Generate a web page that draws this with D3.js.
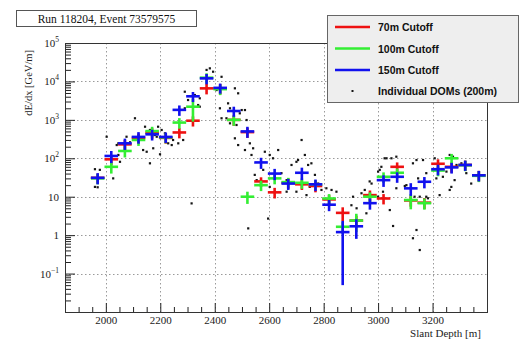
<!DOCTYPE html>
<html>
<head>
<meta charset="utf-8">
<script src="https://cdn.jsdelivr.net/npm/d3@7"></script>
<style>
  html, body { margin: 0; padding: 0; background: #fff; }
  svg { display: block; }
</style>
</head>
<body>
<svg id="chart" width="526" height="339"></svg>
<script>
// Energy-loss profile along the track: binned dE/dx for three DOM distance cutoffs
const binCenters = [1970, 2020, 2070, 2120, 2170, 2220, 2270, 2320, 2370, 2420,
                    2470, 2520, 2570, 2620, 2670, 2720, 2770, 2820, 2870, 2920,
                    2970, 3020, 3070, 3120, 3170, 3220, 3270, 3320, 3370];
const binHalfWidth = 25;

const cut70 = [31, 94, 230, 340, 465, 340, 470, 950, 6600, 6600,
               1000, 480, 25, 13, 23, 21, 19, 8.5, 3.8, 2.4,
               11, 9, 60, 8, 7, 72, 60, 67, 36];
const cut70Err = [9, 28, 70, 100, 140, 100, 140, 280, 2000, 2000,
                  300, 140, 7, 4, 7, 6, 6, 2.5, 1.5, 0.8,
                  3.5, 2.7, 18, 2.5, 2.2, 22, 18, 20, 11];

const cut100 = [30, 60, 155, 300, 510, 350, 850, 2200, 12500, 6300,
                1000, 10, 20, 30, 24, 23, 21, 9, 1.65, 2.4,
                10, 33, 42, 8.2, 6.8, 48, 100, 66, 35];
const cut100Err = [9, 20, 50, 90, 150, 105, 260, 1300, 3800, 1900,
                   300, 3.5, 6, 9, 7, 7, 6, 2.7, 0.55, 1.2,
                   3, 10, 12, 3.5, 2.2, 14, 30, 20, 11];

const cut150 = [31, 115, 245, 360, 420, 360, 1820, 4100, 12000, 6800,
                1700, 500, 78, 40, 22, 42, 21, 6.2, 1.2, 1.7,
                6.8, 27, 33, 16.5, 24.5, 52, 58, 67, 36];
const cut150Err = [10, 40, 80, 120, 130, 110, 550, 1200, 3600, 2000,
                   500, 160, 25, 13, 7, 15, 7, 2, 1.15, 0.9,
                   2.2, 9, 10, 6, 8, 16, 18, 20, 11];

// Individual DOM estimates (200 m): slant depth [m], dE/dx [GeV/m]
const domDepth = [1960, 1978, 1970, 1960, 2003, 2027, 2046, 2040, 2046, 2052,
                  2076, 2089, 2107, 2119, 2137, 2144, 2150, 2162, 2162, 2174,
                  2180, 2187, 2192, 2199, 2205, 2217, 2229, 2242, 2247, 2266,
                  2284, 2290, 2290, 2302, 2315, 2327, 2339, 2345, 2345, 2370,
                  2382, 2394, 2407, 2419, 2425, 2425, 2474, 2486, 2449, 2456,
                  2443, 2456, 2480, 2492, 2511, 2517, 2474, 2486, 2511, 2529,
                  2541, 2535, 2547, 2554, 2578, 2584, 2602, 2602, 2614, 2633,
                  2596, 2523, 2645, 2664, 2682, 2700, 2719, 2731, 2743, 2755,
                  2749, 2768, 2780, 2792, 2810, 2829, 2847, 2664, 2700, 2737,
                  2499, 2706, 2908, 2976, 2921, 2957, 3043, 3055, 3024, 3067,
                  2939, 2951, 2969, 3000, 3006, 3031, 3049, 3012, 3000, 3018,
                  3067, 3098, 3104, 3128, 3141, 3165, 3141, 3128, 3153, 3134,
                  3153, 3177, 3183, 3147, 3177, 3208, 3226, 3214, 3238, 3251,
                  3263, 3275, 3281, 3263, 3269, 3288, 3306, 3324, 3336, 3342,
                  2902];
const domValue = [52, 50, 17.6, 18, 364, 30, 245, 221, 122, 81,
                  364, 261, 1100, 281, 164, 663, 148, 545, 74, 182,
                  403, 364, 663, 127, 545, 446, 245, 221, 299, 245,
                  299, 5400, 2000, 3280, 6.7, 4430, 2430, 2200, 3640, 19900,
                  21900, 17900, 5970, 2000, 1100, 13200, 6620, 4910, 2690, 2000,
                  1100, 813, 735, 1480, 1800, 990, 331, 221, 164, 245,
                  182, 122, 37, 27, 50, 148, 122, 18, 100, 164,
                  2.7, 1.5, 41, 27, 67, 81, 299, 122, 67, 74,
                  18, 37, 22, 15, 16.6, 15, 13.5, 13.5, 13.5, 11,
                  1800, 90, 10, 22, 5.0, 3.7, 4.5, 1.73, 100, 110,
                  12.3, 15, 25, 45, 50, 100, 100, 60, 10, 13.5,
                  16.6, 19, 20, 74, 90, 90, 1.36, 0.83, 0.41, 10,
                  10, 10, 9.1, 30, 41, 100, 11, 30, 33, 45,
                  122, 110, 27, 15, 18, 67, 74, 41, 67, 22,
                  6];

const xTickValues = [2000, 2200, 2400, 2600, 2800, 3000, 3200];
const yTickValues = [0.1, 1, 10, 100, 1000, 10000, 100000];
const titleText = "Run 118204, Event 73579575";
const legendLabels = ["70m Cutoff", "100m Cutoff", "150m Cutoff", "Individual DOMs (200m)"];
const seriesColors = ["#ee1111", "#33ee33", "#1111ee"];

const svg = d3.select("#chart");
const plot = { left: 65, right: 487, top: 43, bottom: 312 };

const x = d3.scaleLinear().domain([1850, 3400]).range([plot.left, plot.right]);
const y = d3.scaleLog().domain([0.01, 100000]).range([plot.bottom, plot.top]);

svg.append("rect").attr("width", 526).attr("height", 339).attr("fill", "#fff");

svg.append("defs").append("clipPath").attr("id", "plotClip")
  .append("rect")
  .attr("x", plot.left).attr("y", plot.top)
  .attr("width", plot.right - plot.left).attr("height", plot.bottom - plot.top);

// dotted grid
const grid = svg.append("g").attr("stroke", "#9a9a9a").attr("stroke-width", 1)
  .attr("stroke-dasharray", "1.5,2.5");
grid.selectAll("line.gx").data(xTickValues).join("line")
  .attr("x1", d => Math.round(x(d)) + 0.5).attr("x2", d => Math.round(x(d)) + 0.5)
  .attr("y1", plot.top).attr("y2", plot.bottom);
grid.selectAll("line.gy").data(yTickValues).join("line")
  .attr("y1", d => Math.round(y(d)) + 0.5).attr("y2", d => Math.round(y(d)) + 0.5)
  .attr("x1", plot.left).attr("x2", plot.right);

// x axis: minor ticks every 50 m, labelled majors every 200 m
const xMinor = d3.range(1900, 3400, 50).filter(v => !xTickValues.includes(v));
const xAxisG = svg.append("g").attr("transform", `translate(0,${plot.bottom})`);
xAxisG.call(d3.axisBottom(x).tickValues(xTickValues).tickSizeInner(-9).tickSizeOuter(0)
  .tickFormat(d3.format("d")));
const xMinorG = svg.append("g").attr("transform", `translate(0,${plot.bottom})`);
xMinorG.call(d3.axisBottom(x).tickValues(xMinor).tickSizeInner(-5).tickSizeOuter(0).tickFormat(""));
xMinorG.select(".domain").remove();

// y axis: log decades with 2..9 minor ticks
const yMinor = [];
for (let e = -2; e < 5; e++) for (let m = 2; m <= 9; m++) yMinor.push(m * Math.pow(10, e));
const yAxisG = svg.append("g").attr("transform", `translate(${plot.left},0)`);
yAxisG.call(d3.axisLeft(y).tickValues(yTickValues).tickSizeInner(-10).tickSizeOuter(0)
  .tickFormat(""));
const yMinorG = svg.append("g").attr("transform", `translate(${plot.left},0)`);
yMinorG.call(d3.axisLeft(y).tickValues(yMinor).tickSizeInner(-6).tickSizeOuter(0).tickFormat(""));
yMinorG.select(".domain").remove();

svg.selectAll(".tick line").attr("stroke", "#222");
svg.selectAll(".domain").attr("stroke", "#222");

xAxisG.selectAll(".tick text")
  .attr("font-family", "'Liberation Serif', 'DejaVu Serif', serif")
  .attr("font-size", 11).attr("fill", "#222").attr("dy", 0).attr("y", 11.5);

// y tick labels with superscript exponents
const yLab = svg.append("g")
  .attr("font-family", "'Liberation Serif', 'DejaVu Serif', serif")
  .attr("fill", "#222");
yTickValues.forEach(v => {
  const e = Math.round(Math.log10(v));
  const t = yLab.append("text")
    .attr("x", plot.left - 6).attr("y", y(v) + 4)
    .attr("text-anchor", "end").attr("font-size", 11);
  if (e === 0) t.text("1");
  else if (e === 1) t.text("10");
  else {
    t.append("tspan").text("10");
    t.append("tspan").attr("font-size", 7.5).attr("dy", -5).text(String(e).replace("-", "\u2212"));
  }
});

// frame
svg.append("rect")
  .attr("x", plot.left + 0.5).attr("y", plot.top + 0.5)
  .attr("width", plot.right - plot.left).attr("height", plot.bottom - plot.top)
  .attr("fill", "none").attr("stroke", "#333").attr("stroke-width", 1);

// axis titles
svg.append("text")
  .attr("transform", `translate(32,50) rotate(-90)`)
  .attr("text-anchor", "end")
  .attr("font-family", "'Liberation Serif', 'DejaVu Serif', serif")
  .attr("font-size", 10.5).attr("fill", "#222")
  .text("dE/dx [GeV/m]");
svg.append("text")
  .attr("x", 481).attr("y", 337)
  .attr("text-anchor", "end")
  .attr("font-family", "'Liberation Serif', 'DejaVu Serif', serif")
  .attr("font-size", 11).attr("fill", "#222")
  .text("Slant Depth [m]");

// data
const dataLayer = svg.append("g").attr("clip-path", "url(#plotClip)");

dataLayer.append("g").selectAll("rect").data(d3.zip(domDepth, domValue)).join("rect")
  .attr("x", d => x(d[0]) - 1.1).attr("y", d => y(d[1]) - 1.1)
  .attr("width", 2.2).attr("height", 2.2).attr("fill", "#151515");

const seriesList = [
  { values: cut70, errs: cut70Err, color: seriesColors[0] },
  { values: cut100, errs: cut100Err, color: seriesColors[1] },
  { values: cut150, errs: cut150Err, color: seriesColors[2] }
];
seriesList.forEach(s => {
  const g = dataLayer.append("g").attr("stroke", s.color).attr("stroke-width", 2.6);
  const pts = binCenters.map((c, i) => ({ c, v: s.values[i], e: s.errs[i] }));
  g.selectAll("line.h").data(pts).join("line")
    .attr("x1", d => x(d.c - binHalfWidth)).attr("x2", d => x(d.c + binHalfWidth))
    .attr("y1", d => y(d.v)).attr("y2", d => y(d.v));
  g.selectAll("line.v").data(pts).join("line")
    .attr("x1", d => x(d.c)).attr("x2", d => x(d.c))
    .attr("y1", d => y(Math.max(d.v - d.e, 0.011))).attr("y2", d => y(d.v + d.e));
});

// title box
svg.append("rect").attr("x", 16.5).attr("y", 10.5).attr("width", 180).attr("height", 16)
  .attr("fill", "#fff").attr("stroke", "#555").attr("stroke-width", 1);
svg.append("text").attr("x", 106.5).attr("y", 22.5).attr("text-anchor", "middle")
  .attr("font-family", "'Liberation Serif', 'DejaVu Serif', serif")
  .attr("font-size", 11.5).attr("fill", "#111").text(titleText);

// legend
const lg = svg.append("g");
lg.append("rect").attr("x", 327.5).attr("y", 15.5).attr("width", 191).attr("height", 87)
  .attr("fill", "#eeeeee").attr("stroke", "#666").attr("stroke-width", 1);
const rowY = [27, 48.5, 70, 91];
legendLabels.forEach((lab, i) => {
  if (i < 3) {
    lg.append("line").attr("x1", 335).attr("x2", 370).attr("y1", rowY[i]).attr("y2", rowY[i])
      .attr("stroke", seriesColors[i]).attr("stroke-width", 2.6);
  } else {
    lg.append("rect").attr("x", 351.5).attr("y", rowY[i] - 1).attr("width", 2).attr("height", 2)
      .attr("fill", "#151515");
  }
  lg.append("text").attr("x", 378).attr("y", rowY[i] + 4)
    .attr("font-family", "'Liberation Sans', Arial, sans-serif")
    .attr("font-weight", "bold").attr("font-size", 10.5).attr("fill", "#111")
    .text(lab);
});
</script>
</body>
</html>
